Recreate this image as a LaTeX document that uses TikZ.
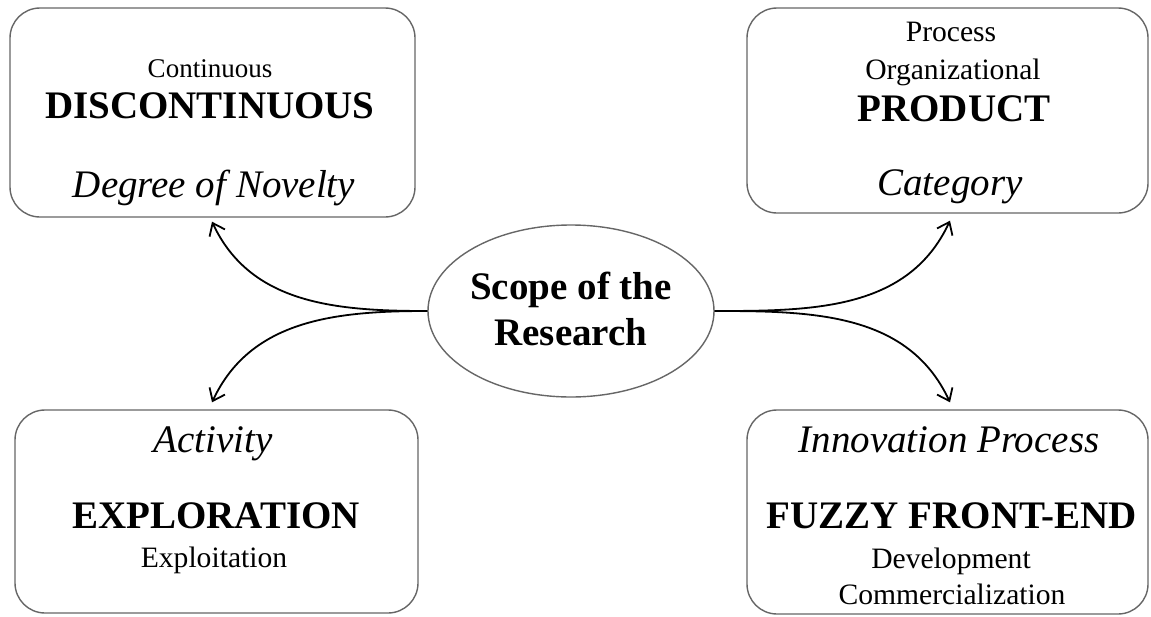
\documentclass[tikz,border=0pt]{standalone}
\usepackage{fontspec}
\setmainfont{Liberation Serif}
\usepackage{tikz}
\usetikzlibrary{shapes,arrows.meta,positioning,calc}

\begin{document}
\begin{tikzpicture}[x=0.5pt, y=-0.5pt,
    panel/.style={rectangle, draw=black!60, line width=0.7pt, rounded corners=15pt, inner sep=0pt},
    scopenode/.style={ellipse, draw=black!60, line width=0.7pt, minimum width=143pt, minimum height=86pt, inner sep=0pt},
    plain/.style={anchor=base, inner sep=0pt, font=\fontsize{14.8}{17}\selectfont},
    heavy/.style={anchor=base, inner sep=0pt, font=\fontsize{19.5}{23}\selectfont\bfseries},
    slant/.style={anchor=base, inner sep=0pt, font=\fontsize{19.5}{23}\selectfont\itshape},
    arrow/.style={-{Straight Barb[length=5.5pt, width=8.5pt]}, line width=0.9pt}]

    \useasboundingbox (0,0) rectangle (1151,616);

    % Centre
    \node[scopenode] (scope) at (571,311) {};
    \node[heavy] (scopeA) at (571,299) {Scope of the};
    \node[heavy] (scopeB) at (571,345) {Research};

    % Degree of novelty
    \node[panel, minimum width=202.5pt, minimum height=104.5pt] (novelty) at (212.5,112.5) {};
    \node[plain, font=\fontsize{13.5}{16}\selectfont] (contin) at (210,77) {Continuous};
    \node[heavy] (discon) at (210,118) {DISCONTINUOUS};
    \node[slant] (noveltylbl) at (214,197) {Degree of Novelty};

    % Category
    \node[panel, minimum width=200.5pt, minimum height=102.5pt] (category) at (947.5,110.5) {};
    \node[plain] (process) at (951,41) {Process};
    \node[plain] (organiz) at (953,79) {Organizational};
    \node[heavy] (product) at (954,121) {PRODUCT};
    \node[slant] (categorylbl) at (950,195) {Category};

    % Activity
    \node[panel, minimum width=201.5pt, minimum height=101.5pt] (activity) at (216.5,511.5) {};
    \node[slant] (activitylbl) at (213,452) {Activity};
    \node[heavy] (explor) at (216,528) {EXPLORATION};
    \node[plain] (exploit) at (214,567) {Exploitation};

    % Innovation process
    \node[panel, minimum width=200.5pt, minimum height=102pt] (innov) at (947.5,512) {};
    \node[slant] (innovlbl) at (949,452) {Innovation Process};
    \node[heavy] (fuzzy) at (952,528) {FUZZY FRONT-END};
    \node[plain] (develop) at (951,568) {Development};
    \node[plain] (commerc) at (952,604) {Commercialization};

    % Arrows
    \draw[arrow] (scope.west) to[out=180, in=-65] ([xshift=-0.25pt, yshift=-2pt]novelty.south);
    \draw[arrow] (scope.west) to[out=180, in=65] ([xshift=-2.25pt, yshift=3.5pt]activity.north);
    \draw[arrow] (scope.east) to[out=0, in=-115] ([xshift=1.25pt, yshift=-3.5pt]category.south);
    \draw[arrow] (scope.east) to[out=0, in=115] ([xshift=1.25pt, yshift=3.5pt]innov.north);

\end{tikzpicture}
\end{document}
